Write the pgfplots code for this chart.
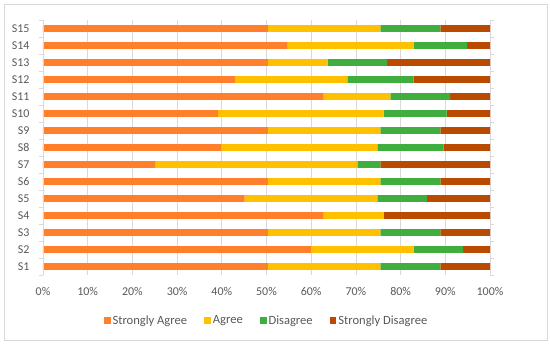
\documentclass[border=0pt]{standalone}
\usepackage{pgfplots}
\pgfplotsset{compat=1.18}
\usepackage{fontspec}
\setmainfont{Carlito}
\definecolor{txt}{HTML}{595959}
\definecolor{gridc}{HTML}{D9D9D9}
\definecolor{cSA}{HTML}{FF7F2A}
\definecolor{cA}{HTML}{FFC000}
\definecolor{cD}{HTML}{40AD3F}
\definecolor{cSD}{HTML}{BA4A00}
\begin{document}
\begin{tikzpicture}[x=1bp,y=1bp]
\useasboundingbox (-43,-70) rectangle (507,275);
\draw[gridc, line width=0.8bp] (-39,-65) rectangle (504,271);
\begin{axis}[
  at={(0,0)}, anchor=south west,
  scale only axis,
  width=447bp, height=255bp,
  xbar stacked,
  bar width=6.8bp,
  xmin=0, xmax=100,
  ymin=0.5, ymax=15.5,
  ytick={1,...,15},
  yticklabels={S1,S2,S3,S4,S5,S6,S7,S8,S9,S10,S11,S12,S13,S14,S15},
  minor ytick={0.5,1.5,...,15.5},
  major tick length=0pt,
  minor tick length=4bp,
  tick align=outside,
  xtick={0,10,...,100},
  xticklabel={\pgfmathprintnumber{\tick}\%},
  /pgf/number format/assume math mode=true,
  xmajorgrids,
  grid style={gridc, line width=0.8bp},
  axis line style={draw=none},
  minor tick style={gridc, line width=0.8bp},
  ticklabel style={font=\fontsize{12}{14}\selectfont, text=txt},
  yticklabel style={xshift=-10bp},
  xticklabel style={yshift=-9bp},
  legend style={at={(0.5,-0.179)}, anchor=center, draw=none, legend columns=-1,
    font=\fontsize{12.6}{14}\selectfont, text=txt,
    /tikz/every even column/.append style={column sep=15bp}},
  legend image code/.code={\fill[#1] (0bp,-3.4bp) rectangle (6.8bp,3.4bp);},
  clip=false,
]
\draw[gridc, line width=0.8bp] (axis cs:0,0.5) -- (axis cs:0,15.5);
\addplot[fill=cSA, draw=none] coordinates {
(50.3,1) (59.9,2) (50.3,3) (62.8,4) (45.1,5) (50.3,6) (25.1,7) (39.9,8) (50.3,9) (39.2,10) (62.8,11) (42.9,12) (50.3,13) (54.7,14) (50.3,15)};
\addplot[fill=cA, draw=none] coordinates {
(25.2,1) (23.0,2) (25.2,3) (13.4,4) (29.7,5) (25.2,6) (45.2,7) (34.9,8) (25.2,9) (37.0,10) (14.9,11) (25.2,12) (13.4,13) (28.2,14) (25.2,15)};
\addplot[fill=cD, draw=none] coordinates {
(13.4,1) (11.1,2) (13.4,3) (0,4) (11.1,5) (13.4,6) (5.2,7) (14.8,8) (13.4,9) (14.1,10) (13.4,11) (14.8,12) (13.3,13) (12.0,14) (13.4,15)};
\addplot[fill=cSD, draw=none] coordinates {
(11.1,1) (6.0,2) (11.1,3) (23.8,4) (14.1,5) (11.1,6) (24.5,7) (10.4,8) (11.1,9) (9.7,10) (8.9,11) (17.1,12) (23.0,13) (5.1,14) (11.1,15)};
\legend{Strongly Agree, Agree, Disagree, Strongly Disagree}
\end{axis}
\end{tikzpicture}
\end{document}
